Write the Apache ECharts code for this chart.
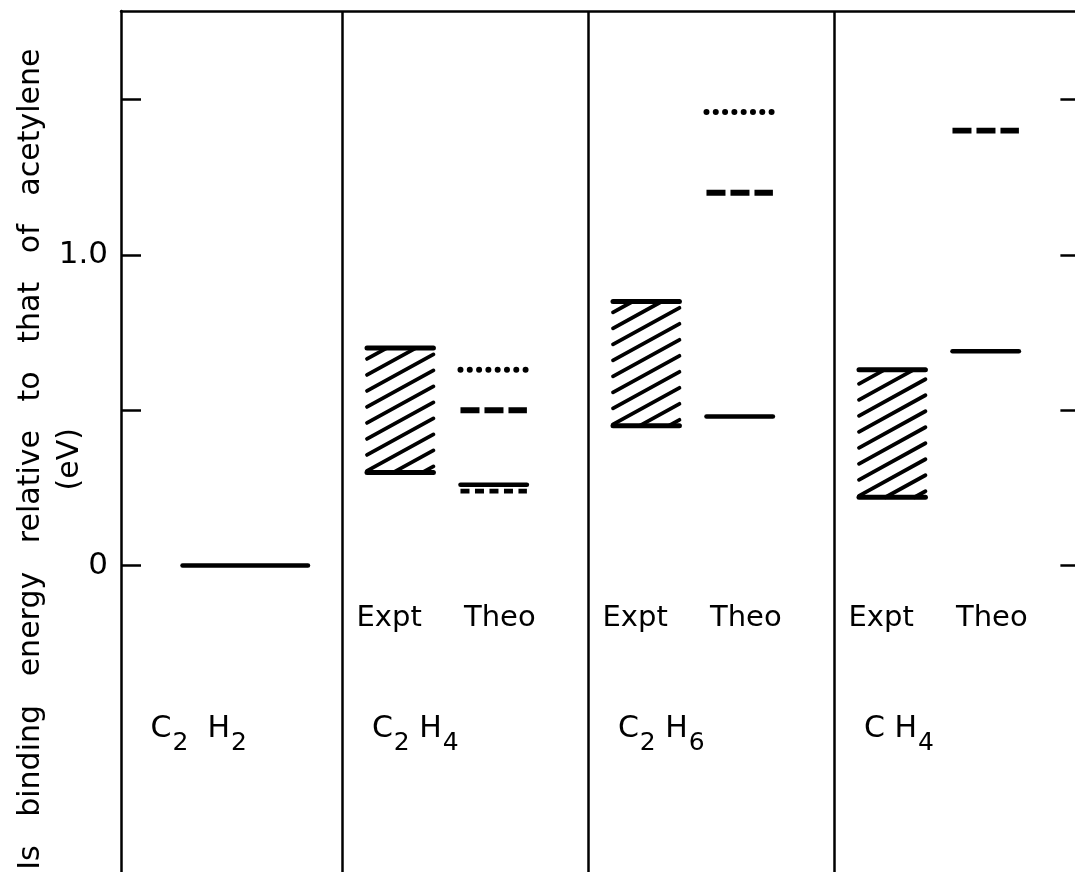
<!DOCTYPE html>
<html>
<head>
<meta charset="utf-8">
<title>1s binding energies relative to acetylene</title>
<script src="https://cdn.jsdelivr.net/npm/echarts/dist/echarts.min.js"></script>
<style>
  html, body { margin: 0; padding: 0; background: #fff; }
  #chart { width: 1075px; height: 872px; }
</style>
</head>
<body>
<div id="chart"></div>
<script>
// Molecules, one panel each (digits are drawn as subscripts)
const molecules = ['C2  H2', 'C2 H4', 'C2 H6', 'C H4'];
// Reference level of acetylene (eV)
const acetyleneLevel = 0;
// Experimental ranges (eV), hatched boxes
const exptLow  = [null, 0.30, 0.45, 0.22];
const exptHigh = [null, 0.70, 0.85, 0.63];
// Theoretical values (eV), one array per line style
const theoSolid     = [null, 0.26, 0.48, 0.69];
const theoDashed    = [null, 0.50, 1.20, 1.40];
const theoDotted    = [null, 0.63, 1.46, null];
const theoShortDash = [null, 0.24, null, null];
// Column headings inside each panel
const columnLabels = ['Expt', 'Theo'];
// Axis ticks and labelled values
const yTickValues  = [0, 0.5, 1.0, 1.5];
const yLabelValues = [0, 1.0];

const FONT = 'DejaVu Sans';
const X_MIN = 0.1, X_MAX = 4.0;
const Y_MIN = -1.1, Y_MAX = 1.785;
const EXPT_SPAN = [0.10, 0.37];
const THEO_SPAN = [0.48, 0.75];
const REF_SPAN  = [0.35, 0.86];
const HEAD_Y = -0.17;
const NAME_Y = -0.545;

const panelStart = i => (i === 0 ? X_MIN : i);

// boxes: [panel, low, high]
const boxData = [];
molecules.forEach((m, i) => {
  if (exptLow[i] != null) boxData.push([i, exptLow[i], exptHigh[i]]);
});

// levels: [panel, value, styleName]
const levelData = [[0, acetyleneLevel, 'ref']];
const addLevels = (arr, style) => arr.forEach((v, i) => {
  if (v != null) levelData.push([i, v, style]);
});
addLevels(theoSolid, 'solid');
addLevels(theoDashed, 'dashed');
addLevels(theoDotted, 'dotted');
addLevels(theoShortDash, 'short');

const levelStyles = {
  ref:    { lineWidth: 4.5, lineCap: 'round' },
  solid:  { lineWidth: 4.5, lineCap: 'round' },
  dashed: { lineWidth: 5.8, lineCap: 'butt', lineDash: [19, 5] },
  dotted: { lineWidth: 6, lineCap: 'round', lineDash: [0, 9.3] },
  short:  { lineWidth: 4.8, lineCap: 'butt', lineDash: [9, 5.5] }
};

// formula -> rich text with subscript digits
function formulaRich(str) {
  let out = '';
  for (const ch of str) {
    if (ch === ' ') out += '{sp| }';
    else if (/\d/.test(ch)) out += '{s|' + ch + '}';
    else out += '{b|' + ch + '}';
  }
  return out;
}

const formulaData = molecules.map((m, i) => [panelStart(i) + 0.12, NAME_Y, m]);
const headData = [];
molecules.forEach((m, i) => {
  if (exptLow[i] != null) {
    headData.push([i + 0.19, HEAD_Y, columnLabels[0]]);
    headData.push([i + 0.64, HEAD_Y, columnLabels[1]]);
  }
});

const dividers = molecules.map((m, i) => i).filter(i => i > 0);

const axisLineStyle = { color: '#000', width: 2.5 };

const chart = echarts.init(document.getElementById('chart'), null, { renderer: 'canvas' });

chart.setOption({
  animation: false,
  backgroundColor: '#fff',
  grid: {
    left: 121, top: 11, right: -5.4, bottom: -35.4,
    containLabel: false, outerBoundsMode: 'none'
  },
  xAxis: {
    type: 'value', min: X_MIN, max: X_MAX, position: 'top',
    axisLine: { show: true, onZero: false, lineStyle: axisLineStyle },
    axisTick: { show: false }, axisLabel: { show: false }, splitLine: { show: false }
  },
  yAxis: [
    {
      type: 'value', min: Y_MIN, max: Y_MAX, position: 'left',
      name: 'Is   binding   energy   relative   to   that   of   acetylene\n(eV)',
      nameLocation: 'middle', nameRotate: 90, nameGap: 31, nameMoveOverlap: false,
      nameTextStyle: { fontFamily: FONT, fontSize: 30, color: '#000', lineHeight: 39, align: 'center' },
      axisLine: { show: true, onZero: false, lineStyle: axisLineStyle },
      axisTick: { show: true, inside: true, length: 20, customValues: yTickValues, lineStyle: axisLineStyle },
      axisLabel: {
        show: true, customValues: yLabelValues, margin: 13,
        fontFamily: FONT, fontSize: 31, color: '#000',
        formatter: v => (v === 0 ? '0' : v.toFixed(1))
      },
      splitLine: { show: false }
    },
    {
      type: 'value', min: Y_MIN, max: Y_MAX, position: 'right',
      axisLine: { show: true, onZero: false, lineStyle: axisLineStyle },
      axisTick: { show: true, inside: true, length: 20, customValues: yTickValues, lineStyle: axisLineStyle },
      axisLabel: { show: false },
      splitLine: { show: false }
    }
  ],
  series: [
    {
      // hatched experimental ranges
      type: 'custom',
      data: boxData,
      encode: { x: 0, y: [1, 2] },
      silent: true,
      renderItem(params, api) {
        const i = api.value(0), lo = api.value(1), hi = api.value(2);
        const tl = api.coord([i + EXPT_SPAN[0], hi]);
        const br = api.coord([i + EXPT_SPAN[1], lo]);
        const x0 = tl[0], x1 = br[0], yT = tl[1], yB = br[1];
        const w = x1 - x0, s = 0.55, gap = 16;
        const children = [];
        for (let yL = yB + s * w - 6; yL > yT; yL -= gap) {
          const xa = Math.max(x0, x0 + (yL - yB) / s);
          const xb = Math.min(x1, x0 + (yL - yT) / s);
          if (xb - xa < 1) continue;
          children.push({
            type: 'line',
            shape: { x1: xa, y1: yL - s * (xa - x0), x2: xb, y2: yL - s * (xb - x0) },
            style: { stroke: '#000', lineWidth: 3.8, lineCap: 'round' }
          });
        }
        [yT, yB].forEach(y => children.push({
          type: 'line',
          shape: { x1: x0, y1: y, x2: x1, y2: y },
          style: { stroke: '#000', lineWidth: 5, lineCap: 'round' }
        }));
        return { type: 'group', children };
      },
      markLine: {
        silent: true, symbol: 'none', label: { show: false },
        lineStyle: { color: '#000', width: 2.5, type: 'solid' },
        data: dividers.map(v => ({ xAxis: v }))
      }
    },
    {
      // theoretical levels and the acetylene reference
      type: 'custom',
      data: levelData,
      encode: { x: 0, y: 1 },
      silent: true,
      renderItem(params, api) {
        const row = levelData[params.dataIndex];
        const i = row[0], v = row[1], key = row[2];
        const span = key === 'ref' ? REF_SPAN : THEO_SPAN;
        const a = api.coord([i + span[0], v]);
        const b = api.coord([i + span[1], v]);
        const st = levelStyles[key];
        return {
          type: 'line',
          shape: { x1: a[0], y1: a[1], x2: b[0], y2: b[1] },
          style: Object.assign({ stroke: '#000', fill: null }, st)
        };
      }
    },
    {
      // column headings
      type: 'scatter',
      data: headData,
      symbolSize: 0,
      silent: true,
      itemStyle: { opacity: 1 },
      label: {
        show: true, position: 'inside', opacity: 1,
        formatter: p => p.data[2],
        fontFamily: FONT, fontSize: 29, color: '#000'
      }
    },
    {
      // molecule names
      type: 'scatter',
      data: formulaData,
      symbolSize: 0,
      silent: true,
      itemStyle: { opacity: 1 },
      label: {
        show: true, position: 'right', distance: 0, opacity: 1,
        formatter: p => formulaRich(p.data[2]),
        rich: {
          b:  { fontFamily: FONT, fontSize: 30, color: '#000', height: 30, lineHeight: 30, verticalAlign: 'top' },
          s:  { fontFamily: FONT, fontSize: 25, color: '#000', height: 24, lineHeight: 42, verticalAlign: 'top', padding: [18, 0, 0, 1] },
          sp: { fontFamily: FONT, fontSize: 30, color: '#000', height: 30, lineHeight: 30, verticalAlign: 'top' }
        }
      }
    }
  ]
});
</script>
</body>
</html>
